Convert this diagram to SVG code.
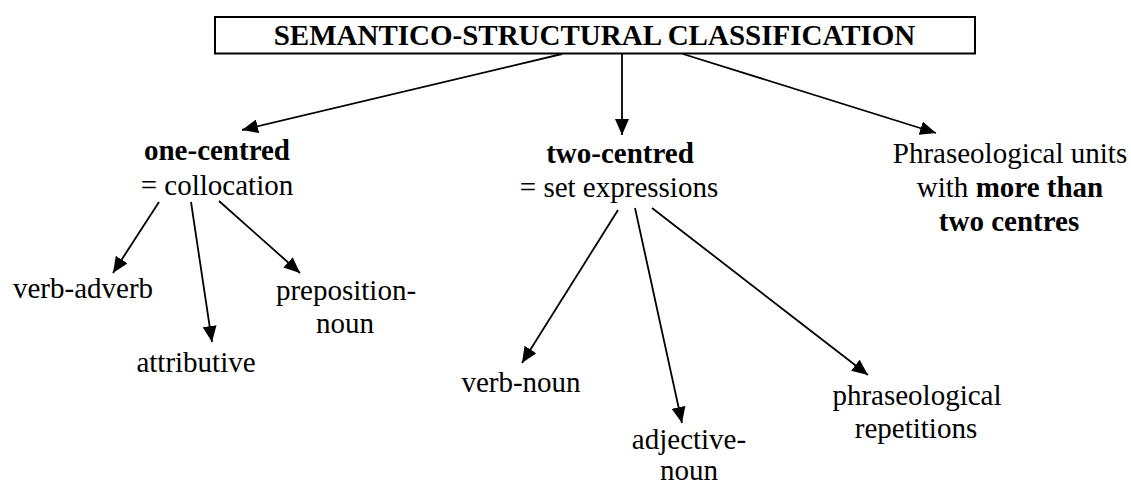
<svg xmlns="http://www.w3.org/2000/svg" width="1131" height="482" viewBox="0 0 1131 482">
  <defs>
    <marker id="arrow" viewBox="0 0 16 14" refX="16" refY="7" markerWidth="16" markerHeight="14" markerUnits="userSpaceOnUse" orient="auto">
      <path d="M0,0 L16,7 L0,14 Z" fill="#000"/>
    </marker>
  </defs>
  <style>
    .t { font-family: 'Times New Roman', 'Liberation Serif', 'DejaVu Serif', Times, serif; font-size: 29px; fill: #000; text-anchor: middle; }
    .b { font-weight: bold; }
    .edge { stroke: #000; stroke-width: 1.8; fill: none; marker-end: url(#arrow); }
  </style>
  <rect width="1131" height="482" fill="#fff"/>

  <g id="root">
    <rect x="215" y="17" width="760" height="36.5" fill="#fff" stroke="#000" stroke-width="2"/>
    <text class="t b" x="594.5" y="45">SEMANTICO-STRUCTURAL CLASSIFICATION</text>
  </g>

  <g id="connectors">
    <line class="edge" x1="562" y1="54" x2="242" y2="130"/>
    <line class="edge" x1="622" y1="54" x2="622" y2="135"/>
    <line class="edge" x1="683" y1="54" x2="936" y2="133"/>
    <line class="edge" x1="159" y1="202" x2="113" y2="273"/>
    <line class="edge" x1="191" y1="202" x2="212" y2="342"/>
    <line class="edge" x1="219" y1="201" x2="300" y2="273"/>
    <line class="edge" x1="618" y1="210" x2="522" y2="363"/>
    <line class="edge" x1="635" y1="208" x2="682" y2="423"/>
    <line class="edge" x1="652" y1="208" x2="868" y2="375"/>
  </g>

  <g id="one-centred">
    <text class="t b" x="217" y="160">one-centred</text>
    <text class="t" x="217" y="195">= collocation</text>
  </g>
  <g id="two-centred">
    <text class="t b" x="620" y="163">two-centred</text>
    <text class="t" x="619" y="197">= set expressions</text>
  </g>
  <g id="more-than-two">
    <text class="t" x="1010" y="163">Phraseological units</text>
    <text class="t" x="1010" y="197">with <tspan class="b">more than</tspan></text>
    <text class="t b" x="1009" y="231">two centres</text>
  </g>

  <g id="verb-adverb">
    <text class="t" x="83" y="298">verb-adverb</text>
  </g>
  <g id="attributive">
    <text class="t" x="196" y="372">attributive</text>
  </g>
  <g id="preposition-noun">
    <text class="t" x="346" y="300">preposition-</text>
    <text class="t" x="345" y="333">noun</text>
  </g>
  <g id="verb-noun">
    <text class="t" x="521" y="392">verb-noun</text>
  </g>
  <g id="adjective-noun">
    <text class="t" x="689" y="449">adjective-</text>
    <text class="t" x="689" y="480">noun</text>
  </g>
  <g id="phraseological-repetitions">
    <text class="t" x="917" y="405">phraseological</text>
    <text class="t" x="916" y="438">repetitions</text>
  </g>
</svg>
